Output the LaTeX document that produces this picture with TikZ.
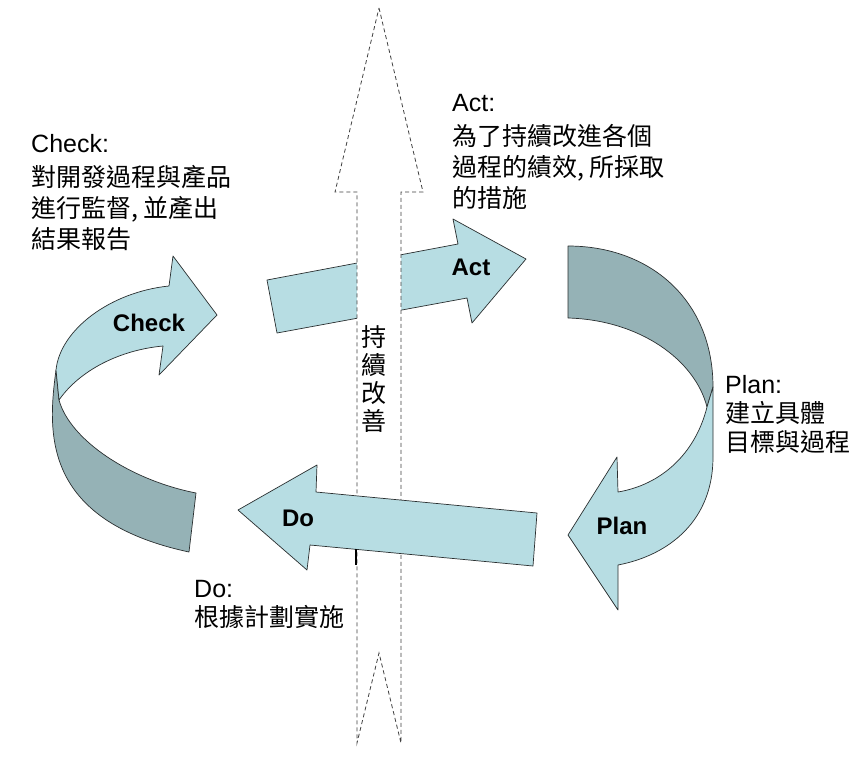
\documentclass[tikz,border=0pt]{standalone}
\usepackage{fontspec}
\setmainfont{Liberation Sans}
\newfontfamily\cjk{Noto Sans CJK TC}
\definecolor{pdcaLight}{HTML}{B7DDE3}
\definecolor{pdcaDark}{HTML}{95B2B6}
\definecolor{pdcaLine}{HTML}{2A2F30}
\tikzset{
  lightBand/.style={fill=pdcaLight, draw=pdcaLine, line width=0.7pt, line join=round},
  darkBand/.style={fill=pdcaDark, draw=pdcaLine, line width=0.7pt, line join=round},
  upArrow/.style={fill=white, draw=black!75, line width=0.8pt, dash pattern=on 4pt off 3pt},
  stageLabel/.style={font=\fontsize{24}{28}\selectfont\bfseries, inner sep=0pt},
  noteText/.style={font=\fontsize{25}{29}\selectfont, align=left, anchor=north west, inner sep=0pt},
  wideNote/.style={noteText, font=\fontsize{25}{31}\selectfont}
}

\begin{document}
\begin{tikzpicture}[x=1pt, y=-1pt]
  \useasboundingbox[fill=white] (0,0) rectangle (868,756);

  % Check band
  \draw[darkBand] (56,370) .. controls (48,430) and (40,520) .. (189,552) -- (196,493)
    .. controls (130,480) and (70,440) .. (59,400) -- cycle;
  \draw[lightBand] (169,286) -- (173,256) -- (217,315) -- (159,375) -- (163,346)
    .. controls (120,350) and (80,370) .. (59,400) -- (56,370)
    .. controls (60,330) and (110,292) .. (169,286) -- cycle;

  % Plan band
  \draw[darkBand] (568,246) .. controls (650,246) and (713,300) .. (713,387) -- (707,407)
    .. controls (695,360) and (640,320) .. (568,318) -- cycle;
  \draw[lightBand] (713,387) -- (713,457) .. controls (713,520) and (670,555) .. (618,565)
    -- (618,610) -- (568,535) -- (617,457) -- (618,492)
    .. controls (660,485) and (695,455) .. (707,407) -- cycle;

  % Act arrow
  \draw[lightBand] (267,280) -- (458,244) -- (453,219) -- (526,259) -- (472,323)
    -- (467,298) -- (277,333) -- cycle;

  % continuous improvement
  \draw[upArrow] (379,8) -- (423,192) -- (401,192) -- (401,743) -- (379,653)
    -- (357,743) -- (357,192) -- (335,192) -- cycle;
  \node[font=\cjk\fontsize{25}{28}\selectfont, align=center, inner sep=0pt] (improve) at (374,379) {持\\續\\改\\善};

  % Do arrow
  \draw[lightBand] (238,510) -- (317,465) -- (316,492) -- (537,513) -- (533,566)
    -- (310,545) -- (307,570) -- cycle;
  \draw[line width=1.2pt] (356,549) -- (356,565);

  \node[stageLabel] (checkLbl) at (149,323) {Check};
  \node[stageLabel] (actLbl) at (471,267) {Act};
  \node[stageLabel] (planLbl) at (622,526) {Plan};
  \node[stageLabel] (doLbl) at (298,518) {Do};

  \node[wideNote] (checkNote) at (31,134) {Check:\\[3pt] {\cjk 對開發過程與產品}\\ {\cjk 進行監督, 並產出}\\ {\cjk 結果報告}};
  \node[wideNote] (actNote) at (452,94) {Act:\\[3pt] {\cjk 為了持續改進各個}\\ {\cjk 過程的績效, 所採取}\\ {\cjk 的措施}};
  \node[noteText] (planNote) at (725,375) {Plan:\\ {\cjk 建立具體}\\ {\cjk 目標與過程}};
  \node[noteText] (doNote) at (194,580) {Do:\\ {\cjk 根據計劃實施}};
\end{tikzpicture}
\end{document}
